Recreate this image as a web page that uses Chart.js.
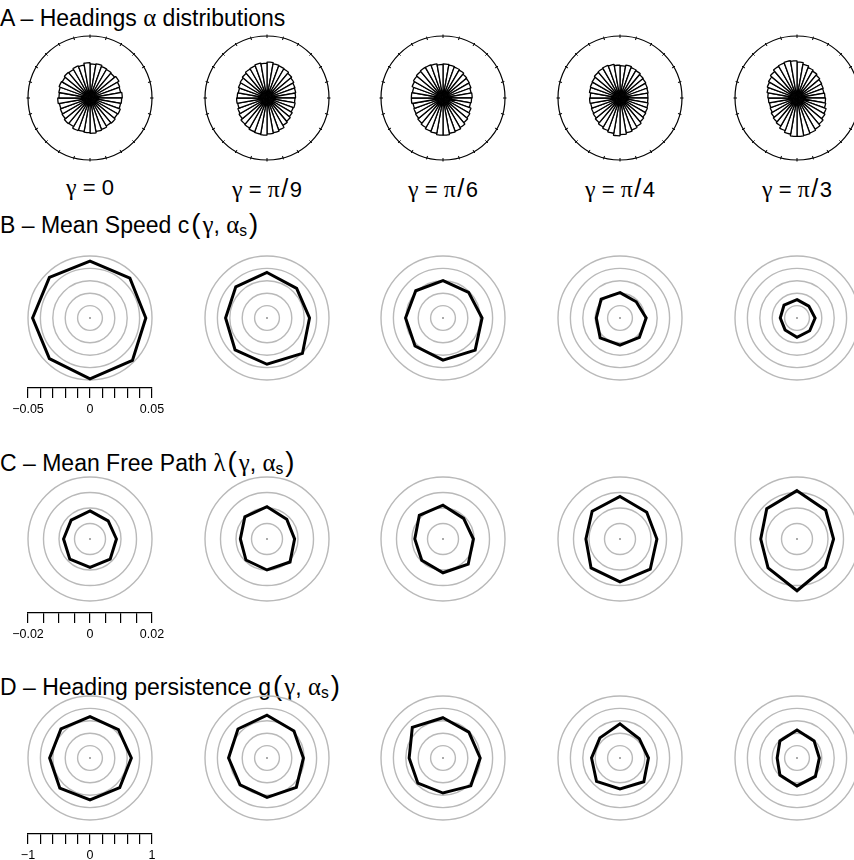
<!DOCTYPE html>
<html>
<head>
<meta charset="utf-8">
<script src="https://cdn.jsdelivr.net/npm/chart.js@4.4.1/dist/chart.umd.min.js"></script>
<style>
html, body { margin: 0; padding: 0; background: #fff; overflow: hidden; }
#fig { position: relative; width: 854px; height: 860px; overflow: hidden; font-family: "Liberation Sans", Arial, sans-serif; color: #000; }
.ttl { position: absolute; left: 3px; font-size: 23px; line-height: 1; white-space: nowrap; }
.g { font-family: "Liberation Serif", "Times New Roman", serif; font-size: 1.08em; }
.ttl sub { font-size: 0.68em; vertical-align: -0.22em; }
.par { font-size: 1.2em; font-weight: 300; margin: 0 2px; }
.lab { position: absolute; width: 160px; text-align: center; font-size: 22px; line-height: 1; white-space: nowrap; }
.eq { margin: 0 0.28em; }
.sl { font-size: 1.15em; margin: 0 0.06em; }
canvas { position: absolute; }
</style>
</head>
<body>
<div id="fig"></div>
<script>
// etiquetas
const gammaLabels = ['γ = 0', 'γ = π/9', 'γ = π/6', 'γ = π/4', 'γ = π/3'];
const dirLabels = ['0°', '45°', '90°', '135°', '180°', '225°', '270°', '315°'];

// A: histogramas de rumbos, 36 clases de 10°, sentido horario desde arriba (circulo exterior = 100)
const headings0 = [55, 56, 54, 53, 52, 54, 51, 50, 52, 51, 50, 52, 51, 53, 52, 54, 55, 57, 56, 55, 56, 53, 54, 52, 51, 50, 52, 50, 51, 53, 52, 54, 53, 55, 54, 57];
const headings1 = [58, 56, 55, 54, 52, 50, 48, 47, 46, 45, 46, 45, 47, 49, 51, 55, 57, 58, 60, 59, 58, 56, 55, 52, 50, 48, 49, 48, 47, 49, 50, 52, 54, 55, 57, 56];
const headings2 = [55, 54, 53, 52, 50, 49, 48, 46, 47, 46, 45, 48, 50, 52, 55, 57, 58, 60, 60, 58, 57, 55, 53, 51, 50, 49, 51, 51, 50, 53, 55, 56, 57, 57, 56, 54];
const headings3 = [52, 54, 52, 51, 49, 48, 47, 46, 45, 45, 46, 47, 48, 50, 53, 55, 57, 59, 61, 58, 56, 54, 52, 50, 49, 48, 49, 48, 50, 51, 52, 54, 55, 56, 55, 53];
const headings4 = [58, 55, 52, 50, 48, 46, 45, 44, 45, 46, 47, 50, 52, 55, 58, 60, 61, 62, 62, 59, 56, 52, 50, 48, 46, 45, 46, 47, 49, 51, 53, 56, 59, 60, 61, 60];
const headingsMax = 100;

// B: velocidad media c(gamma, alpha_s)
const speed0 = [0.0458, 0.0455, 0.0450, 0.0484, 0.0490, 0.0463, 0.0463, 0.0463];
const speed1 = [0.0367, 0.0338, 0.0343, 0.0404, 0.0373, 0.0364, 0.0334, 0.0356];
const speed2 = [0.0302, 0.0292, 0.0315, 0.0367, 0.0340, 0.0319, 0.0302, 0.0311];
const speed3 = [0.0205, 0.0185, 0.0211, 0.0221, 0.0219, 0.0226, 0.0191, 0.0215];
const speed4 = [0.0148, 0.0135, 0.0146, 0.0145, 0.0156, 0.0136, 0.0135, 0.0148];
const speedTicks = [-0.05, 0, 0.05];

// C: camino libre medio lambda(gamma, alpha_s)
const path0 = [0.00906, 0.00828, 0.00853, 0.00920, 0.00916, 0.00920, 0.00853, 0.00860];
const path1 = [0.0104, 0.0090, 0.0089, 0.0105, 0.0100, 0.0096, 0.0086, 0.0101];
const path2 = [0.0109, 0.0094, 0.0098, 0.0115, 0.0109, 0.0097, 0.0091, 0.0108];
const path3 = [0.0137, 0.0122, 0.0119, 0.0138, 0.0138, 0.0132, 0.0110, 0.0127];
const path4 = [0.0156, 0.0131, 0.0118, 0.0129, 0.0167, 0.0132, 0.0117, 0.0138];
const pathTicks = [-0.02, 0, 0.02];

// D: persistencia del rumbo g(gamma, alpha_s)
const persist0 = [0.667, 0.648, 0.667, 0.678, 0.677, 0.688, 0.651, 0.662];
const persist1 = [0.690, 0.615, 0.587, 0.669, 0.636, 0.615, 0.620, 0.662];
const persist2 = [0.650, 0.590, 0.600, 0.635, 0.565, 0.573, 0.546, 0.700];
const persist3 = [0.551, 0.440, 0.459, 0.543, 0.497, 0.535, 0.459, 0.459];
const persist4 = [0.450, 0.390, 0.360, 0.420, 0.450, 0.390, 0.320, 0.390];
const persistTicks = [-1, 0, 1];

// posiciones de la figura
const fig = document.getElementById('fig');
const colX = [90, 267, 443, 620, 797];
const R = 62, PAD = 3, SIZE = 2 * (R + PAD);

function addCanvas(x, y, w, h) {
    const c = document.createElement('canvas');
    c.width = w; c.height = h;
    c.style.left = x + 'px'; c.style.top = y + 'px';
    fig.appendChild(c);
    return c;
}

function addText(cls, html, x, y) {
    const d = document.createElement('div');
    d.className = cls;
    d.innerHTML = html;
    d.style.left = x + 'px'; d.style.top = y + 'px';
    fig.appendChild(d);
}

const baseOpts = {
    responsive: false,
    animation: false,
    layout: { padding: PAD },
    plugins: { legend: { display: false }, tooltip: { enabled: false } }
};

// marcas pequeñas sobre el circulo exterior
const rimTicks = {
    id: 'rimTicks',
    afterDraw(chart) {
        const s = chart.scales.r, ctx = chart.ctx, r = s.drawingArea;
        ctx.save();
        ctx.strokeStyle = '#000';
        ctx.lineWidth = 1;
        for (let k = 0; k < 24; k++) {
            const a = k * Math.PI / 12;
            ctx.beginPath();
            ctx.moveTo(s.xCenter + Math.cos(a) * (r - 2), s.yCenter + Math.sin(a) * (r - 2));
            ctx.lineTo(s.xCenter + Math.cos(a) * (r + 1.5), s.yCenter + Math.sin(a) * (r + 1.5));
            ctx.stroke();
        }
        ctx.restore();
    }
};

function roseChart(cx, cy, values) {
    const labels = values.map((v, i) => (i * 10) + '°');
    new Chart(addCanvas(cx - SIZE / 2, cy - SIZE / 2, SIZE, SIZE), {
        type: 'polarArea',
        data: { labels: labels, datasets: [{ data: values, backgroundColor: '#fff', borderColor: '#000', borderWidth: 1.3 }] },
        options: Object.assign({}, baseOpts, {
            scales: { r: {
                min: 0, max: headingsMax,
                ticks: { display: false, stepSize: headingsMax },
                grid: { color: '#000', lineWidth: 1.2 },
                angleLines: { display: false },
                pointLabels: { display: false }
            } }
        }),
        plugins: [rimTicks]
    });
}

function radarChart(cx, cy, values, max, step) {
    new Chart(addCanvas(cx - SIZE / 2, cy - SIZE / 2, SIZE, SIZE), {
        type: 'radar',
        data: { labels: dirLabels, datasets: [
            { data: values, borderColor: '#000', borderWidth: 3, pointRadius: 0, fill: false },
            { data: values.map(() => 0), showLine: false, pointRadius: 0.8, pointBorderWidth: 0, pointBackgroundColor: '#aaa' }
        ] },
        options: Object.assign({}, baseOpts, {
            scales: { r: {
                min: 0, max: max,
                ticks: { display: false, stepSize: step },
                grid: { circular: true, color: '#b9b9b9', lineWidth: 1.4 },
                angleLines: { display: false },
                pointLabels: { display: false }
            } }
        })
    });
}

// barra de escala bajo la primera columna
function scaleBar(cx, lineY, ends, step) {
    const padX = 30, w = 2 * R + 2 * padX, h = 46, axisH = 30;
    const fmt = v => (v < 0 ? '\u2212' : '') + Math.abs(v);
    new Chart(addCanvas(cx - w / 2, lineY - (h - axisH), w, h), {
        type: 'scatter',
        data: { datasets: [{ data: [] }] },
        options: Object.assign({}, baseOpts, {
            layout: { padding: { left: padX, right: padX, top: 0, bottom: 0 } },
            scales: {
                x: {
                    type: 'linear', position: 'bottom', min: ends[0], max: ends[2],
                    border: { display: true, color: '#000', width: 1.2 },
                    grid: { display: true, drawOnChartArea: false, drawTicks: true, tickLength: 10, color: '#000', lineWidth: 1.2 },
                    ticks: {
                        stepSize: step, autoSkip: false, maxRotation: 0, padding: 4, color: '#000',
                        font: { family: 'Liberation Sans', size: 12.5 },
                        callback: v => {
                            const hit = ends.find(e => Math.abs(e - v) < step / 100);
                            return hit === undefined ? '' : fmt(hit);
                        }
                    },
                    afterFit: ax => { ax.paddingLeft = 0; ax.paddingRight = 0; ax.height = axisH; }
                },
                y: { display: false }
            }
        })
    });
}

const symbolSpans = {
    'γ': '<span class="g">γ</span>',
    'π': '<span class="g">π</span>',
    ' = ': '<span class="eq">=</span>',
    '/': '<span class="sl">/</span>'
};
function gammaHtml(t) {
    return t.replace(/γ|π| = |\//g, m => symbolSpans[m]);
}

// A
addText('ttl', 'A – Headings <span class="g">α</span> distributions', 0, 6);
[headings0, headings1, headings2, headings3, headings4].forEach((v, i) => roseChart(colX[i], 98, v));
gammaLabels.forEach((t, i) => addText('lab', gammaHtml(t), colX[i] - 80, 176));

// B
const args = '<span class="par">(</span><span class="g">γ</span>, <span class="g">α</span><sub>s</sub><span class="par">)</span>';
addText('ttl', 'B – Mean Speed c' + args, 0, 210);
[speed0, speed1, speed2, speed3, speed4].forEach((v, i) => radarChart(colX[i], 318, v, 0.05, 0.01));
scaleBar(colX[0], 388, speedTicks, 0.01);

// C
addText('ttl', 'C – Mean Free Path <span class="g">λ</span>' + args, 0, 448);
[path0, path1, path2, path3, path4].forEach((v, i) => radarChart(colX[i], 539, v, 0.02, 0.005));
scaleBar(colX[0], 613, pathTicks, 0.005);

// D
addText('ttl', 'D – Heading persistence g' + args, 0, 672);
[persist0, persist1, persist2, persist3, persist4].forEach((v, i) => radarChart(colX[i], 758, v, 1, 0.2));
scaleBar(colX[0], 834, persistTicks, 0.2);
</script>
</body>
</html>
